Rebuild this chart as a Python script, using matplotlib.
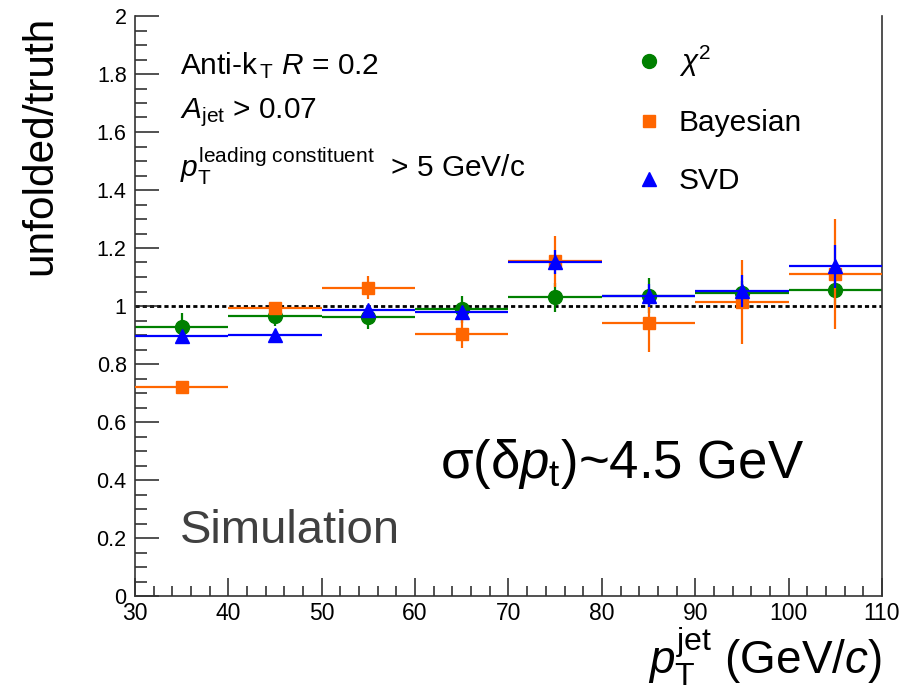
import matplotlib
matplotlib.use("Agg")
import matplotlib.pyplot as plt
from matplotlib.lines import Line2D
from matplotlib.ticker import MultipleLocator

plt.rcParams['font.family'] = ['Liberation Sans', 'DejaVu Sans']
plt.rcParams['mathtext.fontset'] = 'custom'
plt.rcParams['mathtext.rm'] = 'Liberation Sans'
plt.rcParams['mathtext.it'] = 'Liberation Sans:italic'

# jet pT bins (GeV/c)
bin_lo = [30, 40, 50, 60, 70, 80, 90, 100]
bin_hi = [40, 50, 60, 70, 80, 90, 100, 110]

# unfolded / truth ratios per unfolding method
chi2 = [0.927, 0.965, 0.962, 0.988, 1.030, 1.035, 1.046, 1.054]
chi2_err = [0.05, 0.035, 0.04, 0.045, 0.05, 0.06, 0.04, 0.05]
bayes = [0.721, 0.994, 1.063, 0.905, 1.155, 0.942, 1.013, 1.111]
bayes_err = [0.01, 0.015, 0.04, 0.05, 0.088, 0.10, 0.145, 0.19]
svd = [0.896, 0.901, 0.985, 0.980, 1.152, 1.035, 1.053, 1.137]
svd_err = [0.01, 0.01, 0.015, 0.02, 0.04, 0.04, 0.055, 0.075]

green = '#008000'
orange = '#ff6600'
blue = '#0000ff'

centers = [(a + b) / 2 for a, b in zip(bin_lo, bin_hi)]
half_w = [(b - a) / 2 for a, b in zip(bin_lo, bin_hi)]

fig = plt.figure(figsize=(9.04, 6.9), dpi=100)
ax = fig.add_axes([135 / 904, 94 / 690, 747 / 904, 580 / 690])

ax.axhline(1.0, color='black', lw=2, ls=(0, (1.5, 1.1)), zorder=1)

series = [
    (chi2, chi2_err, green, 'o', 10),
    (bayes, bayes_err, orange, 's', 9.3),
    (svd, svd_err, blue, '^', 10),
]
for i, (vals, errs, col, mk, ms) in enumerate(series):
    ax.errorbar(centers, vals, xerr=half_w, yerr=errs, fmt=mk, color=col,
                ms=ms, mec=col, elinewidth=1.6, capsize=0, zorder=2 + i)

ax.set_xlim(30, 110)
ax.set_ylim(0, 2)
ax.xaxis.set_major_locator(MultipleLocator(10))
ax.xaxis.set_minor_locator(MultipleLocator(2))
ax.yaxis.set_major_locator(MultipleLocator(0.2))
ax.yaxis.set_minor_locator(MultipleLocator(0.05))
ax.yaxis.set_major_formatter(plt.FuncFormatter(lambda v, p: f'{v:g}'))
ax.tick_params(axis='both', which='both', direction='in', top=False, right=False,
               color='#222222')
ax.tick_params(axis='y', which='major', length=17, width=1.1, pad=6, labelsize=15.5)
ax.tick_params(axis='y', which='minor', length=8.6, width=1.1)
ax.tick_params(axis='x', which='major', length=13, width=1.1, pad=4, labelsize=16.5)
ax.tick_params(axis='x', which='minor', length=7.5, width=1.1)
for s in ax.spines.values():
    s.set_linewidth(1.2)
    s.set_color('#333333')
ax.spines['top'].set_visible(False)

# axis titles
fig.text(40 / 904, 1 - 16 / 690, 'unfolded/truth', rotation=90, ha='center',
         va='top', fontsize=30.5)
fig.text(882 / 904, 1 - 673 / 690, r'$p_{\rm T}^{\rm jet}$ (GeV/$c$)',
         ha='right', va='baseline', fontsize=33)

# selection text
ax.text(0.060, 0.900, r'Anti-k$_{\rm\,T}$ $R$ = 0.2', transform=ax.transAxes,
        fontsize=21.5, va='baseline')
ax.text(0.060, 0.824, r'$A_{\rm jet}$ > 0.07', transform=ax.transAxes,
        fontsize=21.5, va='baseline')
ax.text(0.060, 0.722, r'$p_{\rm T}^{\rm leading\ constituent}$  > 5 GeV/c',
        transform=ax.transAxes, fontsize=21.5, va='baseline')

ax.text(0.408, 0.203, r'σ(δ$p_{\rm t}$)~4.5 GeV', transform=ax.transAxes,
        fontsize=38, va='baseline')
ax.text(0.060, 0.091, 'Simulation', transform=ax.transAxes, fontsize=34,
        va='baseline', color='#404040')

handles = [
    Line2D([], [], ls='none', marker='o', color=green, ms=10),
    Line2D([], [], ls='none', marker='s', color=orange, ms=9.3),
    Line2D([], [], ls='none', marker='^', color=blue, ms=10),
]
ax.legend(handles, [r'$\chi^{2}$', 'Bayesian', 'SVD'], loc='upper left',
          bbox_to_anchor=(0.650, 0.977), frameon=False, fontsize=21.5,
          handlelength=0.9, handletextpad=0.55, borderpad=0, labelspacing=1.0)

fig.savefig('out.png', dpi=100)
